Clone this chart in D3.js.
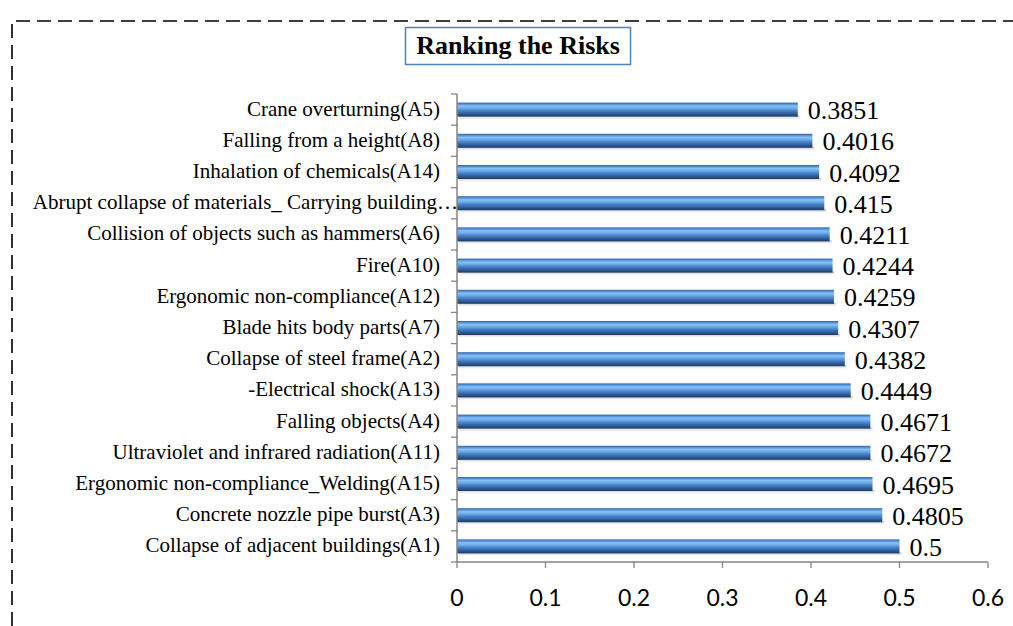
<!DOCTYPE html>
<html><head><meta charset="utf-8">
<script src="https://cdn.jsdelivr.net/npm/d3@7"></script>
<style>body{margin:0;background:#fff}svg{display:block}</style>
</head><body>
<script>
const categories = [
  "Crane overturning(A5)",
  "Falling from a height(A8)",
  "Inhalation of chemicals(A14)",
  "Abrupt collapse of materials_ Carrying building…",
  "Collision of objects such as hammers(A6)",
  "Fire(A10)",
  "Ergonomic non-compliance(A12)",
  "Blade hits body parts(A7)",
  "Collapse of steel frame(A2)",
  "-Electrical shock(A13)",
  "Falling objects(A4)",
  "Ultraviolet and infrared radiation(A11)",
  "Ergonomic non-compliance_Welding(A15)",
  "Concrete nozzle pipe burst(A3)",
  "Collapse of adjacent buildings(A1)"
];
const values = [0.3851, 0.4016, 0.4092, 0.415, 0.4211, 0.4244, 0.4259, 0.4307, 0.4382, 0.4449, 0.4671, 0.4672, 0.4695, 0.4805, 0.5];
const valueLabels = ["0.3851","0.4016","0.4092","0.415","0.4211","0.4244","0.4259","0.4307","0.4382","0.4449","0.4671","0.4672","0.4695","0.4805","0.5"];
const xTicks = [0, 0.1, 0.2, 0.3, 0.4, 0.5, 0.6];
const title = "Ranking the Risks";

const W = 1013, H = 626;
const serif = "'Liberation Serif', 'Times New Roman', serif";
const svg = d3.select("body").append("svg").attr("width", W).attr("height", H);

// dashed frame
svg.append("path").attr("d", "M12,626 L12,21 L1013,21")
  .attr("fill", "none").attr("stroke", "#000").attr("stroke-width", 1.6)
  .attr("stroke-dasharray", "14,7");

const defs = svg.append("defs");
const g1 = defs.append("linearGradient").attr("id", "barg").attr("x1", 0).attr("y1", 0).attr("x2", 0).attr("y2", 1);
[[0, "#2f5f9e"], [0.1, "#4f8bd6"], [0.25, "#86c0f5"], [0.4, "#6fabe9"], [0.6, "#4580c8"], [0.8, "#2f5c98"], [1, "#1d3a66"]]
  .forEach(([o, c]) => g1.append("stop").attr("offset", o).attr("stop-color", c));
const g2 = defs.append("linearGradient").attr("id", "shad").attr("x1", 0).attr("y1", 0).attr("x2", 0).attr("y2", 1);
g2.append("stop").attr("offset", 0).attr("stop-color", "#8a8a8a").attr("stop-opacity", 0.6);
g2.append("stop").attr("offset", 1).attr("stop-color", "#ffffff").attr("stop-opacity", 0);

const x = d3.scaleLinear().domain([0, 0.6]).range([457, 988]);
const y = d3.scaleBand().domain(categories).range([94, 562]).paddingInner(0).paddingOuter(0);

// title box
const tb = svg.append("g");
tb.append("rect").attr("x", 405.5).attr("y", 27.5).attr("width", 225).attr("height", 37)
  .attr("fill", "#fff").attr("stroke", "#4f81bd").attr("stroke-width", 1.5);
tb.append("text").attr("x", 518).attr("y", 54).attr("text-anchor", "middle")
  .attr("font-family", serif).attr("font-weight", "bold").attr("font-size", 26)
  .text(title);

const barH = 14;
const cy = c => y(c) + y.bandwidth() / 2;
// shadows
svg.append("g").selectAll("rect").data(values).join("rect")
  .attr("x", x(0) + 2).attr("y", (d, i) => cy(categories[i]) + barH / 2 - 1)
  .attr("width", d => x(d) - x(0)).attr("height", 5).attr("fill", "url(#shad)");
// bars
svg.append("g").selectAll("rect").data(values).join("rect")
  .attr("x", x(0)).attr("y", (d, i) => cy(categories[i]) - barH / 2)
  .attr("width", d => x(d) - x(0)).attr("height", barH).attr("fill", "url(#barg)");

// value labels
svg.append("g").selectAll("text").data(values).join("text")
  .attr("x", d => x(d) + 10).attr("y", (d, i) => cy(categories[i]) + 9.5)
  .attr("font-family", serif).attr("font-size", 26).attr("fill", "#000")
  .text((d, i) => valueLabels[i]);

// y axis
const ya = svg.append("g").attr("transform", `translate(${x(0)},0)`);
ya.append("line").attr("x1", 0).attr("x2", 0).attr("y1", 94).attr("y2", 562).attr("stroke", "#868686").attr("stroke-width", 1.5);
const bounds = categories.map(c => y(c)).concat([562]);
ya.selectAll("line.t").data(bounds).join("line").attr("class", "t")
  .attr("x1", -6).attr("x2", 0).attr("y1", d => d).attr("y2", d => d).attr("stroke", "#868686").attr("stroke-width", 1.3);
ya.selectAll("text").data(categories).join("text")
  .attr("x", d => d.endsWith("…") ? 1 : -17).attr("y", d => cy(d) + 6)
  .attr("text-anchor", "end").attr("font-family", serif).attr("font-size", 21).attr("fill", "#000")
  .text(d => d);

// x axis
const xa = svg.append("g").attr("transform", "translate(0,562)");
xa.append("line").attr("x1", x(0)).attr("x2", x(0.6)).attr("stroke", "#868686").attr("stroke-width", 1.5);
xa.selectAll("line.t").data(xTicks).join("line").attr("class", "t")
  .attr("x1", d => x(d)).attr("x2", d => x(d)).attr("y1", 0).attr("y2", 6).attr("stroke", "#868686").attr("stroke-width", 1.3);
xa.selectAll("text").data(xTicks).join("text")
  .attr("x", d => x(d)).attr("y", 44).attr("text-anchor", "middle")
  .attr("font-family", "Lato, 'Open Sans', sans-serif").attr("font-size", 23).attr("fill", "#000")
  .text(d => d3.format("")(d));
</script>
</body></html>
